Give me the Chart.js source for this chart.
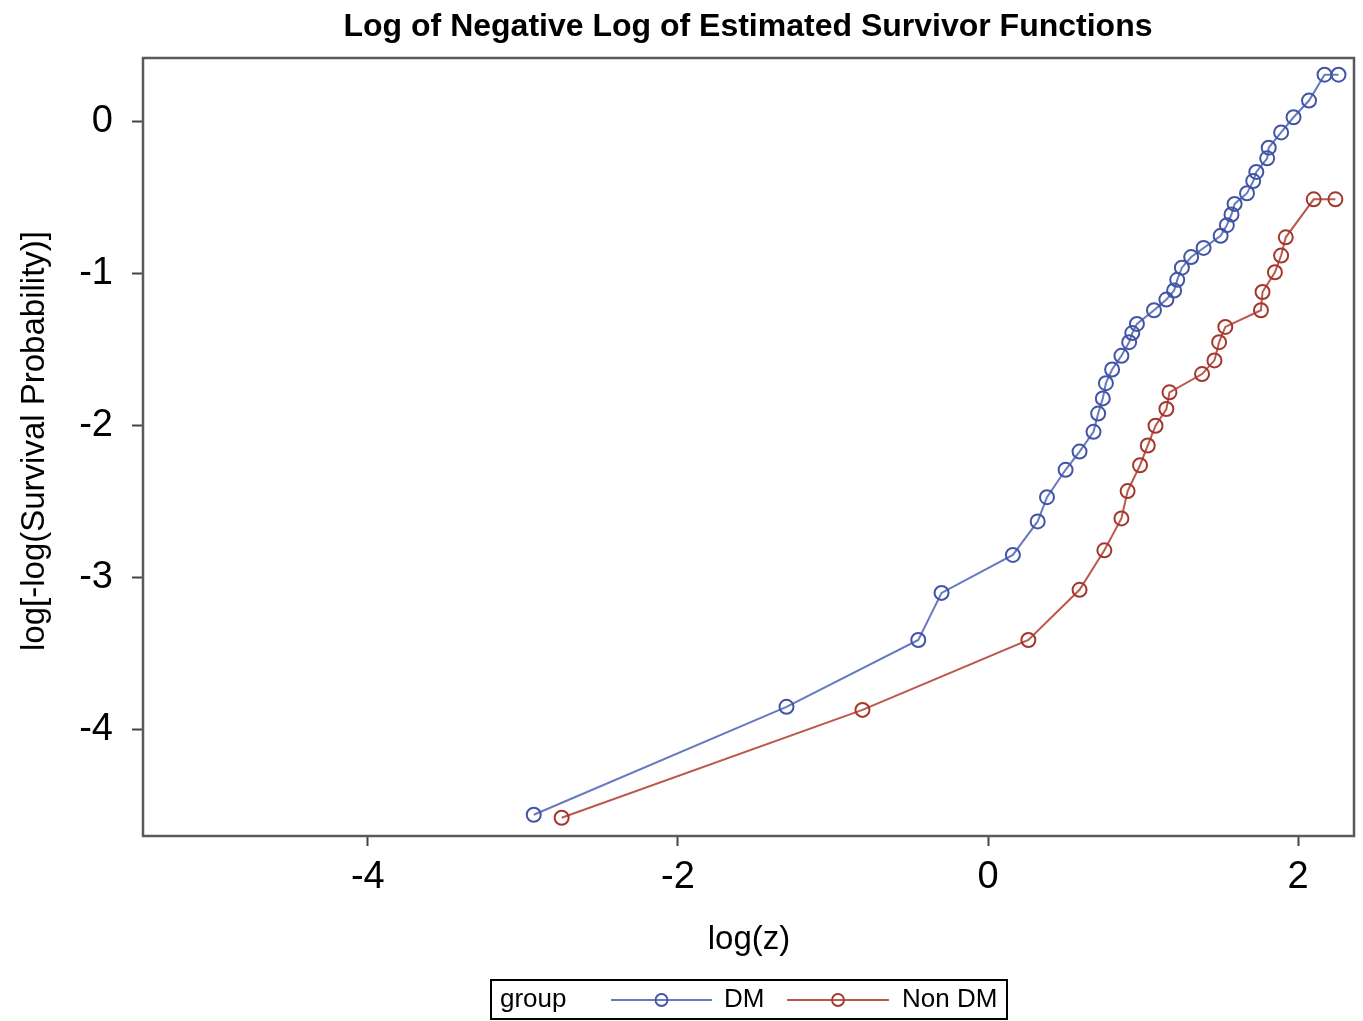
<!DOCTYPE html>
<html>
<head>
<meta charset="utf-8">
<title>Log of Negative Log of Estimated Survivor Functions</title>
<script src="https://cdn.jsdelivr.net/npm/chart.js@4.4.0/dist/chart.umd.min.js"></script>
<style>
  body { margin: 0; background: #ffffff; }
  #wrap { width: 1363px; height: 1021px; }
</style>
</head>
<body>
<div id="wrap"><canvas id="survChart" width="1363" height="1021"></canvas></div>
<script>
// log(z) vs log[-log(S)] for each group
var dmX = [-2.93, -1.30, -0.45, -0.30, 0.16, 0.32, 0.38, 0.50, 0.59, 0.68, 0.71, 0.74, 0.76, 0.80,
           0.86, 0.91, 0.93, 0.96, 1.07, 1.15, 1.20, 1.22, 1.25, 1.31, 1.39, 1.50, 1.54, 1.57,
           1.59, 1.67, 1.71, 1.73, 1.80, 1.81, 1.89, 1.97, 2.07, 2.17, 2.26];
var dmY = [-4.56, -3.85, -3.41, -3.10, -2.85, -2.63, -2.47, -2.29, -2.17, -2.04, -1.92, -1.82, -1.72, -1.63,
           -1.54, -1.45, -1.39, -1.33, -1.24, -1.17, -1.11, -1.04, -0.96, -0.89, -0.83, -0.75, -0.68, -0.61,
           -0.54, -0.47, -0.39, -0.33, -0.24, -0.17, -0.07, 0.03, 0.14, 0.31, 0.31];

var nonDmX = [-2.75, -0.81, 0.26, 0.59, 0.75, 0.86, 0.90, 0.98, 1.03, 1.08, 1.15, 1.17,
              1.38, 1.46, 1.49, 1.53, 1.76, 1.77, 1.85, 1.89, 1.92, 2.10, 2.24];
var nonDmY = [-4.58, -3.87, -3.41, -3.08, -2.82, -2.61, -2.43, -2.26, -2.13, -2.00, -1.89, -1.78,
              -1.66, -1.57, -1.45, -1.35, -1.24, -1.12, -0.99, -0.88, -0.76, -0.51, -0.51];

var groupNames = ['DM', 'Non DM'];
var xTicks = [-4, -2, 0, 2];
var yTicks = [-4, -3, -2, -1, 0];

var FONT = "'Liberation Sans', Arial, sans-serif";
var blueMark = '#4154a6', blueLine = '#6779c0';
var redMark = '#a4372c', redLine = '#bb584e';

function toPoints(xs, ys) {
  return xs.map(function (x, i) { return { x: x, y: ys[i] }; });
}

// frame, titles and the SAS style legend box
var decor = {
  id: 'decor',
  afterDraw: function (chart) {
    var c = chart.ctx, a = chart.chartArea;
    c.save();
    c.strokeStyle = '#5a5a5a';
    c.lineWidth = 2.5;
    c.strokeRect(a.left, a.top, a.right - a.left, a.bottom - a.top);

    c.fillStyle = '#000';
    c.textAlign = 'center';
    c.textBaseline = 'middle';
    c.font = 'bold 32px ' + FONT;
    c.fillText('Log of Negative Log of Estimated Survivor Functions', 748, 27);

    c.font = '33px ' + FONT;
    c.fillText('log(z)', 749, 940);

    c.save();
    c.translate(35, 441);
    c.rotate(-Math.PI / 2);
    c.fillText('log[-log(Survival Probability)]', 0, 0);
    c.restore();

    // legend
    c.strokeStyle = '#000';
    c.lineWidth = 2;
    c.strokeRect(491, 980, 516, 39);
    c.font = '26px ' + FONT;
    c.textAlign = 'left';
    c.fillText('group', 500, 1000);
    var items = [
      { x0: 611, x1: 712, line: blueLine, mark: blueMark, tx: 724 },
      { x0: 787, x1: 889, line: redLine, mark: redMark, tx: 902 }
    ];
    items.forEach(function (it, i) {
      c.strokeStyle = it.line;
      c.lineWidth = 1.8;
      c.beginPath();
      c.moveTo(it.x0, 1000);
      c.lineTo(it.x1, 1000);
      c.stroke();
      c.strokeStyle = it.mark;
      c.beginPath();
      c.arc((it.x0 + it.x1) / 2, 1000, 6, 0, Math.PI * 2);
      c.stroke();
      c.fillStyle = '#000';
      c.fillText(groupNames[i], it.tx, 1000);
    });
    c.restore();
  }
};

var ctx = document.getElementById('survChart').getContext('2d');

new Chart(ctx, {
  type: 'line',
  data: {
    datasets: [{
      label: groupNames[0],
      data: toPoints(dmX, dmY),
      borderColor: blueLine,
      borderWidth: 2,
      pointStyle: 'circle',
      pointRadius: 7,
      pointBorderWidth: 2,
      pointBorderColor: blueMark,
      pointBackgroundColor: 'rgba(0,0,0,0)',
      tension: 0,
      fill: false
    }, {
      label: groupNames[1],
      data: toPoints(nonDmX, nonDmY),
      borderColor: redLine,
      borderWidth: 2,
      pointStyle: 'circle',
      pointRadius: 7,
      pointBorderWidth: 2,
      pointBorderColor: redMark,
      pointBackgroundColor: 'rgba(0,0,0,0)',
      tension: 0,
      fill: false
    }]
  },
  options: {
    responsive: false,
    animation: false,
    layout: { padding: { top: 58, right: 8, left: 0, bottom: 0 } },
    scales: {
      x: {
        type: 'linear',
        min: -5.45,
        max: 2.36,
        afterBuildTicks: function (s) { s.ticks = xTicks.map(function (v) { return { value: v }; }); },
        afterFit: function (s) { s.height = 185; },
        border: { display: false },
        grid: { drawOnChartArea: false, drawTicks: true, tickLength: 10, tickColor: '#444', tickWidth: 2 },
        ticks: {
          padding: 9,
          color: '#000',
          font: { family: FONT, size: 38 },
          callback: function (v) { return String(v); }
        }
      },
      y: {
        type: 'linear',
        min: -4.70,
        max: 0.42,
        afterBuildTicks: function (s) { s.ticks = yTicks.map(function (v) { return { value: v }; }); },
        afterFit: function (s) { s.width = 143; },
        border: { display: false },
        grid: { drawOnChartArea: false, drawTicks: true, tickLength: 11, tickColor: '#444', tickWidth: 2 },
        ticks: {
          padding: 19,
          color: '#000',
          font: { family: FONT, size: 38 },
          callback: function (v) { return String(v); }
        }
      }
    },
    plugins: {
      legend: { display: false },
      title: { display: false },
      tooltip: { enabled: false }
    }
  },
  plugins: [decor]
});
</script>
</body>
</html>
